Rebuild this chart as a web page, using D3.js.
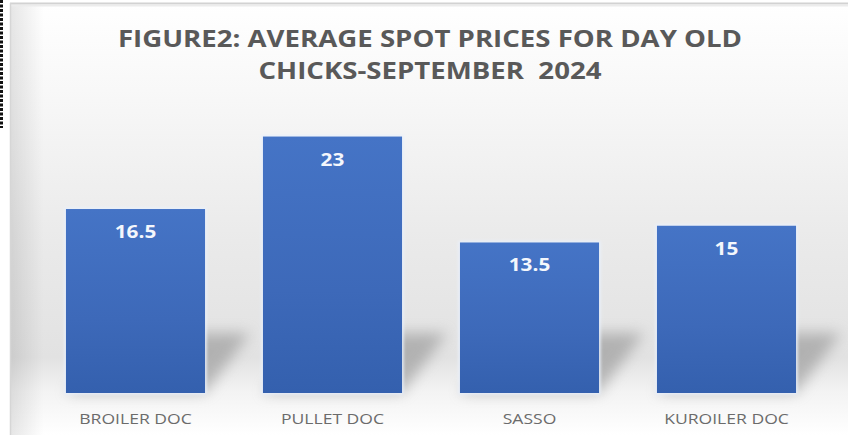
<!DOCTYPE html>
<html><head><meta charset="utf-8">
<script src="https://cdn.jsdelivr.net/npm/d3@7"></script>
<style>html,body{margin:0;padding:0;background:#fff;}svg{display:block;}</style>
</head><body>
<script>
const categories = ["BROILER DOC", "PULLET DOC", "SASSO", "KUROILER DOC"];
const values = [16.5, 23, 13.5, 15];
const titleLines = ["FIGURE2: AVERAGE SPOT PRICES FOR DAY OLD", "CHICKS-SEPTEMBER  2024"];

const W = 848, H = 435;
const svg = d3.select("body").append("svg").attr("width", W).attr("height", H);
const defs = svg.append("defs");

function stretch(sel, s) {
  sel.each(function(){
    const w = this.getComputedTextLength();
    d3.select(this).attr("textLength", w*s).attr("lengthAdjust","spacingAndGlyphs");
  });
}

const bg = defs.append("linearGradient").attr("id","bg").attr("x1",0).attr("y1",0).attr("x2",0).attr("y2",1);
[[0,"#ffffff"],[0.2,"#f8f8f8"],[0.55,"#eaeaea"],[0.82,"#e2e2e2"],[0.9,"#f3f3f3"],[1,"#ffffff"]]
  .forEach(([o,c])=>bg.append("stop").attr("offset",o).attr("stop-color",c));
const bg2 = defs.append("linearGradient").attr("id","bgL").attr("x1",0).attr("y1",0).attr("x2",1).attr("y2",0);
[[0,"#000",0.10],[0.04,"#000",0.0],[1,"#000",0]].forEach(([o,c,a])=>bg2.append("stop").attr("offset",o).attr("stop-color",c).attr("stop-opacity",a));

const barG = defs.append("linearGradient").attr("id","barG").attr("x1",0).attr("y1",0).attr("x2",0).attr("y2",1);
[[0,"#4574c6"],[0.6,"#3d69b9"],[1,"#3460ae"]].forEach(([o,c])=>barG.append("stop").attr("offset",o).attr("stop-color",c));

const blur = defs.append("filter").attr("id","blur").attr("x","-50%").attr("y","-50%").attr("width","200%").attr("height","200%");
blur.append("feGaussianBlur").attr("stdDeviation",7);
const glow = defs.append("filter").attr("id","glow").attr("x","-10%").attr("y","-10%").attr("width","120%").attr("height","120%");
glow.append("feGaussianBlur").attr("stdDeviation",1.5);

// panel
svg.append("rect").attr("x",10).attr("y",3).attr("width",W-10).attr("height",H-3).attr("fill","url(#bg)");
svg.append("rect").attr("x",10).attr("y",3).attr("width",W-10).attr("height",H-3).attr("fill","url(#bgL)");
svg.append("line").attr("x1",10).attr("x2",W).attr("y1",3.5).attr("y2",3.5).attr("stroke","#d2d2d2").attr("stroke-width",2);
svg.append("line").attr("x1",10).attr("x2",W).attr("y1",5.5).attr("y2",5.5).attr("stroke","#ececec").attr("stroke-width",2);
svg.append("line").attr("x1",10.5).attr("x2",10.5).attr("y1",3).attr("y2",H).attr("stroke","#d6d6d6").attr("stroke-width",1.5);

// dotted border at left edge
svg.append("line").attr("x1",1.5).attr("x2",1.5).attr("y1",0).attr("y2",128)
  .attr("stroke","#111").attr("stroke-width",3).attr("stroke-dasharray","3,1.5");

const x = d3.scaleBand().domain(categories).range([37, 825]).paddingInner(0.294).paddingOuter(0.147);
const y = d3.scaleLinear().domain([0, 25]).range([393, 114.25]);

// shadows
const sh = svg.append("g").attr("filter","url(#blur)").attr("opacity",0.55);
sh.selectAll("path").data(categories).join("path")
  .attr("d", d => {
    const x0 = x(d), x1 = x(d)+x.bandwidth(), b = y(0), dx = 45, h = 60;
    return `M${x0},${b} L${x1},${b} L${x1+dx},${b-h} L${x0+dx},${b-h} Z`;
  })
  .attr("fill","#8a8a8a");

// bar glow outline
svg.append("g").attr("filter","url(#glow)").selectAll("rect").data(values).join("rect")
  .attr("x",(d,i)=>x(categories[i])-1.5).attr("y",d=>y(d)-1.5)
  .attr("width",x.bandwidth()+3).attr("height",d=>y(0)-y(d)+3)
  .attr("fill","#e9f0fb");

svg.append("g").selectAll("rect").data(values).join("rect")
  .attr("x",(d,i)=>x(categories[i])).attr("y",d=>y(d))
  .attr("width",x.bandwidth()).attr("height",d=>y(0)-y(d))
  .attr("fill","url(#barG)");

// value labels
svg.append("g").selectAll("text").data(values).join("text")
  .attr("x",(d,i)=>x(categories[i])+x.bandwidth()/2).attr("y",d=>y(d)+29)
  .attr("text-anchor","middle").attr("font-family","'Open Sans', sans-serif")
  .attr("font-weight",700).attr("font-size","17px")
  .attr("fill","#f4f7fc").text(d=>d)
  .call(stretch, 1.22);

// category axis labels
const xAxis = d3.axisBottom(x).tickSize(0).tickPadding(0);
const ax = svg.append("g").attr("transform",`translate(0,${y(0)})`).call(xAxis);
ax.select(".domain").remove();
ax.selectAll("text").attr("dy",0).attr("y",31)
  .attr("font-family","'Open Sans', sans-serif").attr("font-size","15px")
  .attr("fill","#6b6b6b")
  .call(stretch, 1.17);

// title
svg.append("g").selectAll("text").data(titleLines).join("text")
  .attr("x",430).attr("y",(d,i)=>47+i*32)
  .attr("text-anchor","middle").attr("font-family","'Open Sans', sans-serif")
  .attr("font-weight",700).attr("font-size","23px").attr("fill","#595959")
  .style("white-space","pre").text(d=>d)
  .call(stretch, 1.2);
</script>
</body></html>
